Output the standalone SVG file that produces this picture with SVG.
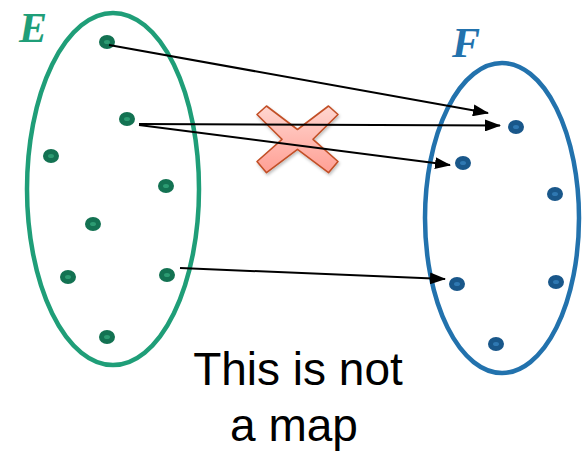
<svg xmlns="http://www.w3.org/2000/svg" width="585" height="461" viewBox="0 0 585 461">
<style>
.setE{fill:none;stroke:#1f9e78;stroke-width:4.5}
.setF{fill:none;stroke:#2272ad;stroke-width:4.5}
.dE{fill:#137252}
.dEi{fill:#2c9b72}
.dF{fill:#19578a}
.dFi{fill:#2f78b2}
.lbl{font-family:"Liberation Serif",serif;font-weight:bold;font-style:italic;font-size:42px}
.cap{font-family:"Liberation Sans",Arial,sans-serif;font-size:46px;fill:#000;text-anchor:middle}
.conn line{stroke:#000;stroke-width:2;marker-end:url(#ah)}
</style>
<defs>
<marker id="ah" viewBox="0 0 16 12" refX="15" refY="6" markerWidth="16" markerHeight="12" markerUnits="userSpaceOnUse" orient="auto">
<path d="M0,0 L16,6 L0,12 Z" fill="#000"/>
</marker>
<linearGradient id="xg" x1="0" y1="0" x2="0" y2="1">
<stop offset="0" stop-color="#ffd6d0"/>
<stop offset="1" stop-color="#ff9f94"/>
</linearGradient>
<filter id="sh" x="-20%" y="-20%" width="140%" height="140%">
<feDropShadow dx="1" dy="2" stdDeviation="1.5" flood-color="#000" flood-opacity="0.25"/>
</filter>
</defs>
<g id="setE">
<ellipse class="setE" cx="113" cy="189" rx="86" ry="176"/>
<text class="lbl" x="19" y="42" fill="#1f9e78">E</text>
</g>
<g id="setF">
<ellipse class="setF" cx="502" cy="218" rx="77" ry="155"/>
<text class="lbl" x="452" y="57" fill="#2272ad">F</text>
</g>
<g id="cross">
<polygon points="266.5,106 297.5,129.5 328.5,106 338,114.5 313,139.3 338,161.5 328.5,172.7 297.5,149.3 266.5,172.7 257,161.5 282,139.3 257,114.5" fill="url(#xg)" stroke="#c24f26" stroke-width="1.6" stroke-linejoin="round" filter="url(#sh)"/>
</g>
<g id="pointsE">
<g id="e1"><ellipse class="dE" cx="107" cy="42" rx="8" ry="7"/><ellipse class="dEi" cx="107" cy="42" rx="3" ry="2"/></g>
<g id="e2"><ellipse class="dE" cx="127" cy="119" rx="8" ry="7"/><ellipse class="dEi" cx="127" cy="119" rx="3" ry="2"/></g>
<g id="e3"><ellipse class="dE" cx="51" cy="156" rx="8" ry="7"/><ellipse class="dEi" cx="51" cy="156" rx="3" ry="2"/></g>
<g id="e4"><ellipse class="dE" cx="166" cy="186" rx="8" ry="7"/><ellipse class="dEi" cx="166" cy="186" rx="3" ry="2"/></g>
<g id="e5"><ellipse class="dE" cx="93" cy="224" rx="8" ry="7"/><ellipse class="dEi" cx="93" cy="224" rx="3" ry="2"/></g>
<g id="e6"><ellipse class="dE" cx="68" cy="277" rx="8" ry="7"/><ellipse class="dEi" cx="68" cy="277" rx="3" ry="2"/></g>
<g id="e7"><ellipse class="dE" cx="167" cy="275" rx="8" ry="7"/><ellipse class="dEi" cx="167" cy="275" rx="3" ry="2"/></g>
<g id="e8"><ellipse class="dE" cx="107" cy="337" rx="8" ry="7"/><ellipse class="dEi" cx="107" cy="337" rx="3" ry="2"/></g>
</g>
<g id="pointsF">
<g id="f1"><ellipse class="dF" cx="516" cy="127" rx="8" ry="7"/><ellipse class="dFi" cx="516" cy="127" rx="3" ry="2"/></g>
<g id="f2"><ellipse class="dF" cx="463" cy="163" rx="8" ry="7"/><ellipse class="dFi" cx="463" cy="163" rx="3" ry="2"/></g>
<g id="f3"><ellipse class="dF" cx="555" cy="194" rx="8" ry="7"/><ellipse class="dFi" cx="555" cy="194" rx="3" ry="2"/></g>
<g id="f4"><ellipse class="dF" cx="457" cy="284" rx="8" ry="7"/><ellipse class="dFi" cx="457" cy="284" rx="3" ry="2"/></g>
<g id="f5"><ellipse class="dF" cx="556" cy="282" rx="8" ry="7"/><ellipse class="dFi" cx="556" cy="282" rx="3" ry="2"/></g>
<g id="f6"><ellipse class="dF" cx="496" cy="344" rx="8" ry="7"/><ellipse class="dFi" cx="496" cy="344" rx="3" ry="2"/></g>
</g>
<g id="connectors" class="conn">
<line x1="109" y1="45" x2="488" y2="113"/>
<line x1="139" y1="124" x2="500" y2="125.5"/>
<line x1="139" y1="125" x2="450" y2="165"/>
<line x1="180" y1="268" x2="445" y2="279"/>
</g>
<g id="caption">
<text class="cap" x="298" y="385">This is not</text>
<text class="cap" x="294" y="441">a map</text>
</g>
</svg>
